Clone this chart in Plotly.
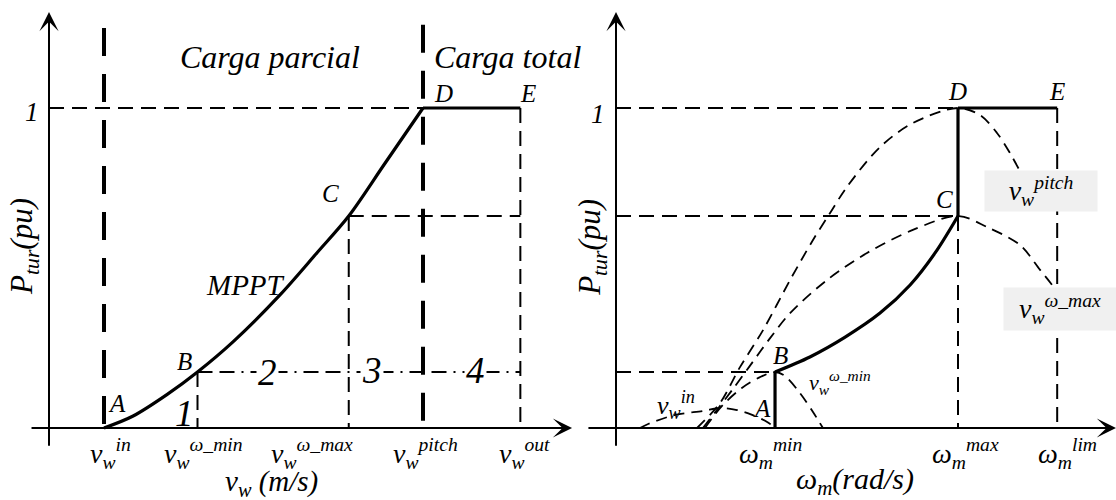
import plotly.graph_objects as go

FONT = "Liberation Serif"
INK = "black"

# ---------------- left panel: turbine power vs wind speed ----------------
# wind-speed reference points on the v_w axis (scaled units)
v_in, v_wmin, v_wmax, v_pitch, v_out = 1.0, 2.7, 5.45, 6.8, 8.57
# power levels (pu) at the operating points B, C and D
p_B, p_C, p_D = 0.175, 0.6625, 1.0

# MPPT trajectory A -> B -> C -> D
v_mppt = [1.0, 1.53, 2.15, 2.7, 3.35, 4.2, 4.87, 5.45, 6.1, 6.8]
p_mppt = [0.0, 0.0375, 0.105, 0.175, 0.27, 0.416, 0.547, 0.6625, 0.825, 1.0]

v_tick_vals = [v_in, v_wmin, v_wmax, v_pitch, v_out]
v_tick_text = ["v<sub>w</sub><sup>in</sup>", "v<sub>w</sub><sup>ω_min</sup>",
               "v<sub>w</sub><sup>ω_max</sup>", "v<sub>w</sub><sup>pitch</sup>",
               "v<sub>w</sub><sup>out</sup>"]

# ---------------- right panel: turbine power vs rotor speed ----------------
w_min, w_max, w_lim = 0.465, 1.0, 1.29

# speed-limited branch B -> C
w_bc = [0.465, 0.567, 0.670, 0.772, 0.860, 0.933, 1.0]
p_bc = [0.175, 0.222, 0.284, 0.359, 0.447, 0.547, 0.6625]

# power curves at constant wind speed
w_curve_in = [0.070, 0.094, 0.173, 0.254, 0.304, 0.354, 0.398, 0.442, 0.465]
p_curve_in = [0.0, 0.0125, 0.041, 0.053, 0.0625, 0.056, 0.041, 0.019, 0.0]

w_curve_min = [0.260, 0.310, 0.368, 0.421, 0.465, 0.494, 0.538, 0.576, 0.605]
p_curve_min = [0.0, 0.069, 0.125, 0.159, 0.175, 0.1625, 0.109, 0.05, 0.0]

w_curve_max = [0.254, 0.295, 0.342, 0.392, 0.450, 0.509, 0.617, 0.734, 0.868, 1.0,
               1.085, 1.181, 1.240, 1.275, 1.304]
p_curve_max = [0.0, 0.056, 0.122, 0.195, 0.280, 0.359, 0.4625, 0.547, 0.619, 0.6625,
               0.628, 0.572, 0.494, 0.447, 0.40]

w_curve_pitch = [0.237, 0.304, 0.363, 0.430, 0.509, 0.576, 0.626, 0.675, 0.772, 0.868,
                 1.0, 1.064, 1.114, 1.152, 1.187]
p_curve_pitch = [0.0, 0.078, 0.191, 0.306, 0.4625, 0.5875, 0.672, 0.753, 0.878, 0.953,
                 1.0, 0.978, 0.922, 0.859, 0.791]

w_tick_vals = [w_min, w_max, w_lim]
w_tick_text = ["ω<sub>m</sub><sup>min</sup>", "ω<sub>m</sub><sup>max</sup>",
               "ω<sub>m</sub><sup>lim</sup>"]

# ---------------- drawing helpers ----------------
THIN_DASH = "15px,8px"
CURVE_DASH = "11px,7px"
THICK_DASH = "28px,18px"
DASH_DOT = "15px,7px,15px,7px,2px,7px"

fig = go.Figure()


def seg(xs, ys, panel, width=2.0, dash="solid", shape="linear"):
    xa, ya = ("x", "y") if panel == 0 else ("x2", "y2")
    fig.add_trace(go.Scatter(x=xs, y=ys, mode="lines", xaxis=xa, yaxis=ya,
                             line=dict(color=INK, width=width, dash=dash, shape=shape,
                                       smoothing=0.9 if shape == "spline" else None),
                             hoverinfo="skip", showlegend=False))


# left panel guides
seg([v_in, v_in], [1.25, 0], 0, width=4, dash=THICK_DASH)
seg([v_pitch, v_pitch], [1.26, 0], 0, width=4, dash=THICK_DASH)
seg([0, v_pitch], [p_D, p_D], 0, dash=THIN_DASH)
seg([v_out, v_out], [p_D, 0], 0, dash=THIN_DASH)
seg([v_wmax, v_out], [p_C, p_C], 0, dash=THIN_DASH)
seg([v_wmax, v_wmax], [p_C, 0], 0, dash=THIN_DASH)
seg([v_wmin, v_wmin], [p_B, 0], 0, dash=THIN_DASH)
seg([v_wmin, v_out], [p_B, p_B], 0, dash=DASH_DOT)
# left panel operating trajectory
seg(v_mppt, p_mppt, 0, width=3.2, shape="spline")
seg([v_pitch, v_out], [p_D, p_D], 0, width=3.2)

# right panel guides
seg([0, w_max], [p_D, p_D], 1, dash=THIN_DASH)
seg([0, w_max], [p_C, p_C], 1, dash=THIN_DASH)
seg([0, w_min], [p_B, p_B], 1, dash=THIN_DASH)
seg([w_max, w_max], [p_C, 0], 1, dash=THIN_DASH)
seg([w_lim, w_lim], [p_D, 0], 1, dash=THIN_DASH)
# constant-wind power curves
for wx, py in [(w_curve_in, p_curve_in), (w_curve_min, p_curve_min),
               (w_curve_max, p_curve_max), (w_curve_pitch, p_curve_pitch)]:
    seg(wx, py, 1, width=1.8, dash=CURVE_DASH, shape="spline")
# right panel operating trajectory
seg([w_min, w_min], [0, p_B], 1, width=3.2)
seg(w_bc, p_bc, 1, width=3.2, shape="spline")
seg([w_max, w_max], [p_C, p_D], 1, width=3.2)
seg([w_max, w_lim], [p_D, p_D], 1, width=3.2)

# ---------------- text ----------------
ann = []


def label(x, y, text, panel, size=25, dx=0, dy=0, bg=None, angle=0, **kw):
    xa, ya = ("x", "y") if panel == 0 else ("x2", "y2")
    d = dict(x=x, y=y, xref=xa, yref=ya, text=text, showarrow=False,
             xshift=dx, yshift=dy, textangle=angle,
             font=dict(family=FONT, size=size, color=INK, style="italic"))
    if bg:
        d["bgcolor"] = bg
    d.update(kw)
    ann.append(d)


def axis_arrow(x0, y0, x1, y1, panel):
    xa, ya = ("x", "y") if panel == 0 else ("x2", "y2")
    ann.append(dict(x=x1, y=y1, ax=x0, ay=y0, xref=xa, yref=ya, axref=xa, ayref=ya,
                    text="", showarrow=True, arrowhead=3, arrowsize=1.6,
                    arrowwidth=2, arrowcolor=INK, standoff=0))


# axes with arrow tips
axis_arrow(-0.345, 0, 9.51, 0, 0)
axis_arrow(0, -0.06, 0, 1.3, 0)
axis_arrow(-0.085, 0, 1.462, 0, 1)
axis_arrow(0, -0.06, 0, 1.3, 1)

# left panel tick labels
for v, t, dx in zip(v_tick_vals, v_tick_text, [6, 6, -37, 2, 4]):
    label(v, 0, t, 0, size=28, dx=dx, dy=-25)
label(0, p_D, "1", 0, size=27, dx=-17, dy=-4)
label(4.05, -0.172, "v<sub>w</sub> (m/s)", 0, size=29)
label(-0.4545, 0.566, "P<sub>tur</sub>(pu)", 0, size=31, angle=-90)

label(v_in, 0, "A", 0, dx=13, dy=25)
label(v_wmin, p_B, "B", 0, dx=-13, dy=11)
label(v_wmax, p_C, "C", 0, dx=-18, dy=23)
label(v_pitch, p_D, "D", 0, dx=20, dy=15)
label(v_out, p_D, "E", 0, dx=8, dy=15)
label(3.58, 0.447, "MPPT", 0, size=29)
label(v_wmin, 0, "1", 0, size=37, dx=-13, dy=15)
label((v_wmin + v_wmax) / 2, p_B, "2", 0, size=37, dx=-6, bg="white")
label((v_wmax + v_pitch) / 2, p_B, "3", 0, size=37, dx=-14, dy=2, bg="white")
label((v_pitch + v_out) / 2, p_B, "4", 0, size=37, dx=4, dy=2, bg="white")
label(4.02, 1.159, "Carga parcial", 0, size=32)
label(8.345, 1.159, "Carga total", 0, size=32)

# right panel tick labels
for w, t, dx in zip(w_tick_vals, w_tick_text, [-5, 7, 10]):
    label(w, 0, t, 1, size=28, dx=dx, dy=-25)
label(0, p_D, "1", 1, size=27, dx=-18, dy=-6)
label(0.699, -0.166, "ω<sub>m</sub>(rad/s)", 1, size=30)
label(-0.0702, 0.566, "P<sub>tur</sub>(pu)", 1, size=31, angle=-90)

label(w_min, 0, "A", 1, dx=-13, dy=20)
label(w_min, p_B, "B", 1, dx=5, dy=17)
label(w_max, p_C, "C", 1, dx=-14, dy=17)
label(w_max, p_D, "D", 1, dx=-1, dy=17)
label(w_lim, p_D, "E", 1, dy=17)

label(0.175, 0.072, "v<sub>w</sub><sup>in</sup>", 1, size=26)
label(0.655, 0.141, "v<sub>w</sub><sup>ω_min</sup>", 1, size=22)
label(1.243, 0.741, "v<sub>w</sub><sup>pitch</sup>", 1, size=28, bg="#f0f0f0",
      width=110, height=38)
label(1.298, 0.372, "v<sub>w</sub><sup>ω_max</sup>", 1, size=28, bg="#f0f0f0",
      width=110, height=40)

split = 575 / 1116
fig.update_layout(
    width=1116, height=500,
    margin=dict(l=0, r=0, t=0, b=0),
    paper_bgcolor="white", plot_bgcolor="white",
    showlegend=False,
    xaxis=dict(domain=[0, split], range=[-49 / 55, (575 - 49) / 55], visible=False),
    yaxis=dict(domain=[0, 1], range=[-72 / 320, 428 / 320], visible=False),
    xaxis2=dict(domain=[split, 1], range=[-41 / 342, 500 / 342], visible=False),
    yaxis2=dict(domain=[0, 1], range=[-72 / 320, 428 / 320], visible=False, anchor="x2"),
    annotations=ann,
)

fig.write_html("out.html")
